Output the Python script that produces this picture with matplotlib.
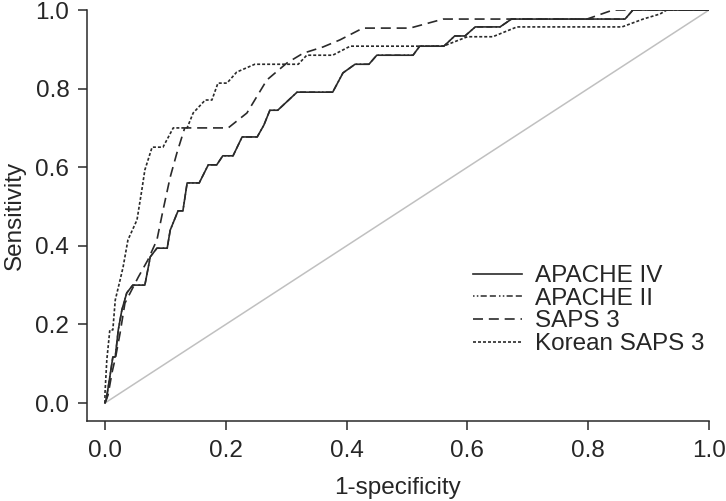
import matplotlib
matplotlib.use("Agg")
import matplotlib.pyplot as plt

plt.rcParams['font.family'] = ['Liberation Sans', 'DejaVu Sans']

# ROC curve vertices (1-specificity, sensitivity)
apache4_x = [0.0, 0.002, 0.008, 0.013, 0.017, 0.022, 0.028, 0.036, 0.046, 0.066, 0.075, 0.086,
             0.103, 0.108, 0.121, 0.129, 0.136, 0.156, 0.171, 0.185, 0.195, 0.212, 0.227, 0.252,
             0.263, 0.273, 0.286, 0.318, 0.377, 0.394, 0.414, 0.437, 0.45, 0.51, 0.521, 0.561,
             0.579, 0.596, 0.613, 0.654, 0.673, 0.861, 0.874, 1.0]
apache4_y = [0.0, 0.008, 0.066, 0.117, 0.117, 0.186, 0.237, 0.28, 0.30, 0.30, 0.372, 0.394,
             0.394, 0.44, 0.489, 0.489, 0.56, 0.56, 0.606, 0.606, 0.629, 0.629, 0.677, 0.677,
             0.707, 0.745, 0.745, 0.791, 0.791, 0.84, 0.862, 0.862, 0.885, 0.885, 0.908, 0.908,
             0.934, 0.934, 0.957, 0.957, 0.977, 0.977, 1.0, 1.0]

apache2_x = apache4_x
apache2_y = apache4_y

saps3_x = [0.0, 0.005, 0.012, 0.018, 0.025, 0.033, 0.045, 0.055, 0.071, 0.086, 0.096, 0.108,
           0.119, 0.132, 0.204, 0.235, 0.268, 0.301, 0.328, 0.361, 0.389, 0.427, 0.505, 0.56,
           0.798, 0.841, 1.0]
saps3_y = [0.0, 0.02, 0.08, 0.12, 0.178, 0.254, 0.29, 0.32, 0.364, 0.415, 0.49, 0.575,
           0.636, 0.70, 0.70, 0.738, 0.822, 0.865, 0.89, 0.906, 0.924, 0.954, 0.954, 0.977,
           0.977, 1.0, 1.0]

ksaps3_x = [0.0, 0.0, 0.003, 0.008, 0.013, 0.017, 0.025, 0.030, 0.038, 0.053, 0.061, 0.066,
            0.078, 0.096, 0.113, 0.136, 0.146, 0.166, 0.177, 0.187, 0.202, 0.218, 0.248, 0.32,
            0.334, 0.377, 0.406, 0.56, 0.60, 0.642, 0.682, 0.856, 0.891, 0.919, 0.93, 1.0]
ksaps3_y = [0.0, 0.025, 0.109, 0.186, 0.186, 0.262, 0.313, 0.346, 0.415, 0.466, 0.542, 0.593,
            0.651, 0.651, 0.70, 0.70, 0.738, 0.771, 0.771, 0.814, 0.814, 0.842, 0.862, 0.862,
            0.885, 0.885, 0.908, 0.908, 0.932, 0.932, 0.957, 0.957, 0.977, 0.99, 1.0, 1.0]

ref_x = [0.0, 1.0]
ref_y = [0.0, 1.0]

labels = ["APACHE IV", "APACHE II", "SAPS 3", "Korean SAPS 3"]
x_ticks = [0.0, 0.2, 0.4, 0.6, 0.8, 1.0]
y_ticks = [0.0, 0.2, 0.4, 0.6, 0.8, 1.0]

txt = "#262626"
ink = "#2a2a2a"
fs = 17.5

fig = plt.figure(figsize=(7.26, 5.01), dpi=100)
ax = fig.add_axes([0.1194, 0.1603, 0.9766 - 0.1194, 0.98 - 0.1603])

ax.plot(ref_x, ref_y, color="#c0c0c0", lw=1.1, zorder=1)
l2, = ax.plot(apache2_x, apache2_y, color=ink, lw=1.1,
              linestyle=(0, (1, 1.5, 1, 1.5, 4, 2, 4, 2)), zorder=2)
l3, = ax.plot(saps3_x, saps3_y, color=ink, lw=1.2, linestyle=(0, (6, 3.5)), zorder=3)
l4, = ax.plot(ksaps3_x, ksaps3_y, color=ink, lw=1.2, linestyle=(0, (1.8, 1.2)), zorder=3)
l1, = ax.plot(apache4_x, apache4_y, color=ink, lw=1.2, zorder=4)

ax.set_xlim(-0.0303, 1.0)
ax.set_ylim(-0.045, 1.0)
ax.set_xticks(x_ticks)
ax.set_yticks(y_ticks)
ax.set_xticklabels([f"{v:.1f}" for v in x_ticks])
ax.set_yticklabels([f"{v:.1f}" for v in y_ticks])

for s in ["top", "right"]:
    ax.spines[s].set_visible(False)
for s in ["left", "bottom"]:
    ax.spines[s].set_color(ink)
    ax.spines[s].set_linewidth(1.1)

ax.tick_params(axis="both", direction="out", length=6.5, width=1.1, color=ink,
               labelsize=fs, labelcolor=txt)
ax.tick_params(axis="x", pad=7.5)
ax.tick_params(axis="y", pad=6.0)

ax.set_xlabel("1-specificity", fontsize=fs, color=txt, labelpad=11)
ax.set_ylabel("Sensitivity", fontsize=fs, color=txt, labelpad=7)

leg = fig.legend([l1, l2, l3, l4], labels, loc="center left",
                 bbox_to_anchor=(0.6515, 0.381), frameon=False, fontsize=fs,
                 handlelength=2.0, handletextpad=0.55, labelspacing=0.03,
                 borderpad=0, borderaxespad=0)
for t in leg.get_texts():
    t.set_color(txt)

fig.savefig("out.png", dpi=100, facecolor="white")
